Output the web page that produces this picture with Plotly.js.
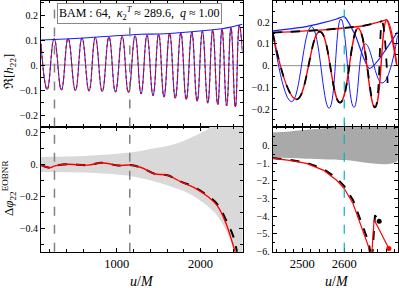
<!DOCTYPE html>
<html><head><meta charset="utf-8">
<script src="https://cdn.plot.ly/plotly-3.0.1.min.js"></script>
<style>html,body{margin:0;padding:0;background:#fff}#c{width:399px;height:288px}</style>
</head><body><div id="c"></div>
<script>
// ---- Data ----
// Left top: inspiral waveform extrema (u/M, Re h22)
const inspU = [94,168,251,338,418,505,584,668,743,826,906,984,1064,1139,1219,1290,1361,1433,1500,1564,1631,1699,1765,1830,1896,1960,2023,2087,2146,2206,2257,2313,2364,2417,2464,2502];
const inspH = [0.085,-0.098,0.105,-0.100,0.106,-0.102,0.108,-0.104,0.110,-0.106,0.112,-0.108,0.114,-0.110,0.117,-0.115,0.119,-0.122,0.123,-0.128,0.126,-0.133,0.128,-0.138,0.132,-0.145,0.135,-0.152,0.139,-0.158,0.143,-0.163,0.150,-0.168,0.159,0.05];
const envLU = [94,600,1290,1500,1896,2257,2364,2464,2502];
const envLH = [0.100,0.108,0.123,0.124,0.133,0.145,0.152,0.160,0.163];
// Left bottom: phase difference
const dphiU = [94,199,259,417,655,814,893,1012,1155,1290,1449,1607,1766,1925,2083,2202,2302,2381,2420];
const dphiRed = [-0.004,-0.021,-0.010,0.000,-0.005,0.010,0.005,-0.008,-0.005,-0.020,-0.059,-0.069,-0.110,-0.146,-0.200,-0.260,-0.365,-0.490,-0.560];
const dphiBlkU = [94,199,259,417,655,814,893,1012,1155,1290,1449,1607,1766,1925,2083,2202,2302,2395,2440];
const dphiBlk = [-0.004,-0.021,-0.010,0.000,-0.005,0.010,0.005,-0.008,-0.005,-0.020,-0.059,-0.069,-0.108,-0.142,-0.195,-0.250,-0.345,-0.455,-0.560];
const bandU = [94,616,1155,1400,1687,1885,2083,2123,2202,2321,2421,2502];
const bandHi = [0.046,0.052,0.073,0.095,0.125,0.166,0.219,0.240,0.28,0.34,0.40,0.45];
const bandLo = [-0.048,-0.052,-0.073,-0.100,-0.146,-0.188,-0.260,-0.280,-0.323,-0.427,-0.548,-0.65];
// Right top: merger zoom
const nrU = [2430,2475,2522,2564,2592,2623,2650,2690,2727];
const nrH = [0.158,-0.166,0.180,-0.196,0.215,-0.192,0.10,-0.08,0.14];
const nrEnvU = [2430,2510,2550,2582,2600,2626,2660,2727];
const nrEnvH = [0.160,0.180,0.198,0.215,0.226,0.141,-0.013,0.157];
const eobU = [2430,2487,2542,2590,2633,2673,2701,2725];
const eobRed = [0.152,-0.155,0.157,-0.170,0.172,-0.192,0.210,0.000];
const eob2U = [2430,2487,2542,2590,2633,2673,2690,2703];
const eobBlk = [0.152,-0.155,0.157,-0.170,0.172,-0.192,0.200,-0.080];
const eobEnvU = [2430,2550,2650,2690,2701,2725];
const eobEnvRed = [0.152,0.165,0.185,0.205,0.210,0.000];
const eobEnvBlkU = [2430,2550,2650,2690];
const eobEnvBlk = [0.152,0.165,0.185,0.205];
// Right bottom: phase difference near merger
const dRU = [2430,2470,2510,2550,2582,2600,2621,2641,2657,2664,2671,2706];
const dRRed = [-0.74,-0.85,-1.02,-1.40,-1.97,-2.44,-3.30,-4.62,-5.67,-6.60,-4.20,-5.82];
const dBU = [2430,2470,2510,2550,2582,2600,2621,2641,2657,2666,2673,2683];
const dBBlk = [-0.72,-0.82,-0.98,-1.33,-1.85,-2.30,-3.10,-4.35,-5.40,-6.50,-3.95,-4.28];
const bandRU = [2430,2470,2510,2560,2600,2727];
const bandRHi = [0.72,0.78,0.87,0.97,1.08,1.3];
const bandRLo = [-0.68,-0.72,-0.76,-0.80,-0.83,-0.875];
const vLines = [255,1155];
const mergerU = 2600;

// ---- Layout helpers ----
const W=399,H=288;
const px=x=>x/W, py=y=>1-y/H;
const serif='Liberation Serif, Times New Roman, serif';
const dL=[px(41),px(242.5)], dR=[px(272.7),px(397.7)];
const dT=[py(126.5),py(0.5)], dB=[py(251.7),py(126.5)];
function ax(extra){return Object.assign({showline:true,linecolor:'#000',linewidth:1,mirror:'allticks',ticks:'inside',ticklen:4,tickcolor:'#000',showgrid:false,zeroline:false,tickfont:{family:serif,size:10,color:'#000'},fixedrange:true},extra);}
const xl={tickvals:[1000,2000],ticktext:['1000','2000'],minor:{dtick:200,tick0:0,ticks:'inside',ticklen:2.5,tickcolor:'#000'}};
const xr={tickvals:[2500,2600],ticktext:['2500','2600'],minor:{dtick:20,tick0:2400,ticks:'inside',ticklen:2.5,tickcolor:'#000'}};
const y01={tickvals:[-0.2,-0.1,0,0.1,0.2],ticktext:['−0.2','−0.1','0.','0.1','0.2'],minor:{dtick:0.05,tick0:0,ticks:'inside',ticklen:2.5,tickcolor:'#000'}};

const traces=[];
// top-left
traces.push({x:inspU,y:inspH,xaxis:'x',yaxis:'y',mode:'lines',line:{color:'#1a1aff',width:1,shape:'spline',smoothing:1.3},hoverinfo:'skip'});
traces.push({x:inspU,y:inspH,xaxis:'x',yaxis:'y',mode:'lines',line:{color:'#e00000',width:1.2,dash:'dot',shape:'spline',smoothing:1.3},hoverinfo:'skip'});
traces.push({x:envLU,y:envLH,xaxis:'x',yaxis:'y',mode:'lines',line:{color:'#1a1aff',width:1.2,shape:'spline'},hoverinfo:'skip'});
// bottom-left band
traces.push({x:bandU.concat(bandU.slice().reverse()),y:bandHi.concat(bandLo.slice().reverse()),xaxis:'x2',yaxis:'y2',mode:'lines',fill:'toself',fillcolor:'#d9d9d9',line:{width:0,color:'rgba(0,0,0,0)',shape:'spline'},hoverinfo:'skip'});
traces.push({x:dphiBlkU,y:dphiBlk,xaxis:'x2',yaxis:'y2',mode:'lines',line:{color:'#000',width:2,dash:'dash',shape:'spline'},hoverinfo:'skip'});
traces.push({x:dphiU,y:dphiRed,xaxis:'x2',yaxis:'y2',mode:'lines',line:{color:'#ff0000',width:1.4,shape:'spline'},hoverinfo:'skip'});
// top-right
traces.push({x:nrU,y:nrH,xaxis:'x3',yaxis:'y3',mode:'lines',line:{color:'#1a1aff',width:1,shape:'spline',smoothing:1.3},hoverinfo:'skip'});
traces.push({x:nrEnvU,y:nrEnvH,xaxis:'x3',yaxis:'y3',mode:'lines',line:{color:'#1a1aff',width:1.2,shape:'spline',smoothing:0.6},hoverinfo:'skip'});
traces.push({x:eobU,y:eobRed,xaxis:'x3',yaxis:'y3',mode:'lines',line:{color:'#ff0000',width:1.4,shape:'spline',smoothing:1.3},hoverinfo:'skip'});
traces.push({x:eobEnvU,y:eobEnvRed,xaxis:'x3',yaxis:'y3',mode:'lines',line:{color:'#ff0000',width:1.4,shape:'spline',smoothing:0.6},hoverinfo:'skip'});
traces.push({x:eob2U,y:eobBlk,xaxis:'x3',yaxis:'y3',mode:'lines',line:{color:'#000',width:1.8,dash:'dash',shape:'spline',smoothing:1.3},hoverinfo:'skip'});
traces.push({x:eobEnvBlkU,y:eobEnvBlk,xaxis:'x3',yaxis:'y3',mode:'lines',line:{color:'#000',width:1.8,dash:'dash',shape:'spline',smoothing:0.6},hoverinfo:'skip'});
// bottom-right
traces.push({x:bandRU.concat(bandRU.slice().reverse()),y:bandRHi.concat(bandRLo.slice().reverse()),xaxis:'x4',yaxis:'y4',mode:'lines',fill:'toself',fillcolor:'#a9a9a9',line:{width:0,color:'rgba(0,0,0,0)',shape:'spline'},hoverinfo:'skip'});
traces.push({x:dBU,y:dBBlk,xaxis:'x4',yaxis:'y4',mode:'lines',line:{color:'#000',width:2,dash:'dash'},hoverinfo:'skip'});
traces.push({x:dRU,y:dRRed,xaxis:'x4',yaxis:'y4',mode:'lines',line:{color:'#ff0000',width:1.2},hoverinfo:'skip'});
traces.push({x:[dBU[dBU.length-1]],y:[dBBlk[dBBlk.length-1]],xaxis:'x4',yaxis:'y4',mode:'markers',marker:{color:'#000',size:5},hoverinfo:'skip'});
traces.push({x:[dRU[dRU.length-1]],y:[dRRed[dRRed.length-1]],xaxis:'x4',yaxis:'y4',mode:'markers',marker:{color:'#ff0000',size:5},hoverinfo:'skip',cliponaxis:false});

const shapes=[];
vLines.forEach(v=>{['x','x2'].forEach((xa,i)=>{shapes.push({type:'line',xref:xa,yref:(i?'y2':'y')+' domain',x0:v,x1:v,y0:0,y1:1,line:{color:'#808080',width:1.5,dash:'dash'},layer:'above'});});});
['x3','x4'].forEach((xa,i)=>shapes.push({type:'line',xref:xa,yref:(i?'y4':'y3')+' domain',x0:mergerU,x1:mergerU,y0:0,y1:1,line:{color:'#00b5b5',width:1.2,dash:'dash'},layer:'above'}));
// zero lines
[['x','y'],['x2','y2'],['x3','y3']].forEach(([xa,ya])=>shapes.push({type:'line',xref:xa+' domain',yref:ya,x0:0,x1:1,y0:0,y1:0,line:{color:'#707070',width:0.8},layer:'below'}));

const A=(o)=>Object.assign({xref:'paper',yref:'paper',xanchor:'center',yanchor:'middle',showarrow:false},o);
const layout={width:W,height:H,margin:{l:0,r:0,t:0,b:0},showlegend:false,paper_bgcolor:'#fff',plot_bgcolor:'rgba(0,0,0,0)',
 xaxis:ax(Object.assign({domain:dL,anchor:'y',range:[94,2502],showticklabels:false},xl)),
 yaxis:ax(Object.assign({domain:dT,anchor:'x',range:[-0.246,0.258]},y01)),
 xaxis2:ax(Object.assign({domain:dL,anchor:'y2',range:[94,2502],tickfont:{family:serif,size:12.5,color:'#000'}},xl)),
 yaxis2:ax({domain:dB,anchor:'x2',range:[-0.546,0.236],tickvals:[-0.4,-0.2,0,0.2],ticktext:['−0.4','−0.2','0.','0.2'],minor:{dtick:0.1,tick0:0,ticks:'inside',ticklen:2.5,tickcolor:'#000'}}),
 xaxis3:ax(Object.assign({domain:dR,anchor:'y3',range:[2430,2727],showticklabels:false},xr)),
 yaxis3:ax(Object.assign({domain:dT,anchor:'x3',range:[-0.280,0.300]},y01)),
 xaxis4:ax(Object.assign({domain:dR,anchor:'y4',range:[2430,2727],tickfont:{family:serif,size:12.5,color:'#000'}},xr)),
 yaxis4:ax({domain:dB,anchor:'x4',range:[-6,1.06],tickvals:[-6,-5,-4,-3,-2,-1,0],ticktext:['−6.','−5.','−4.','−3.','−2.','−1.','0.'],minor:{dtick:0.5,tick0:0,ticks:'inside',ticklen:2.5,tickcolor:'#000'}}),
 shapes:shapes,
 annotations:[
  A({x:px(139.5),y:py(13.5),text:'BAM : 64,  <i>κ</i><sub>2</sub><sup><i>T</i></sup> ≈ 289.6,  <i>q</i> ≈ 1.00',font:{family:serif,size:12,color:'#000'},bgcolor:'#fff',bordercolor:'#888',borderwidth:1,borderpad:1}),
  A({x:px(9),y:py(72),textangle:-90,text:'ℜ[<i>h</i><sub>22</sub>]',font:{family:serif,size:13,color:'#000'}}),
  A({x:px(9),y:py(188),textangle:-90,text:'Δ<i>φ</i><sub>22</sub><sup>EOBNR</sup>',font:{family:serif,size:13,color:'#000'}}),
  A({x:px(141.7),y:py(281),text:'<i>u</i>/<i>M</i>',font:{family:serif,size:14,color:'#000'}}),
  A({x:px(336.7),y:py(281),text:'<i>u</i>/<i>M</i>',font:{family:serif,size:14,color:'#000'}})
 ]};
Plotly.newPlot('c',traces,layout,{staticPlot:true,displayModeBar:false});
</script></body></html>
